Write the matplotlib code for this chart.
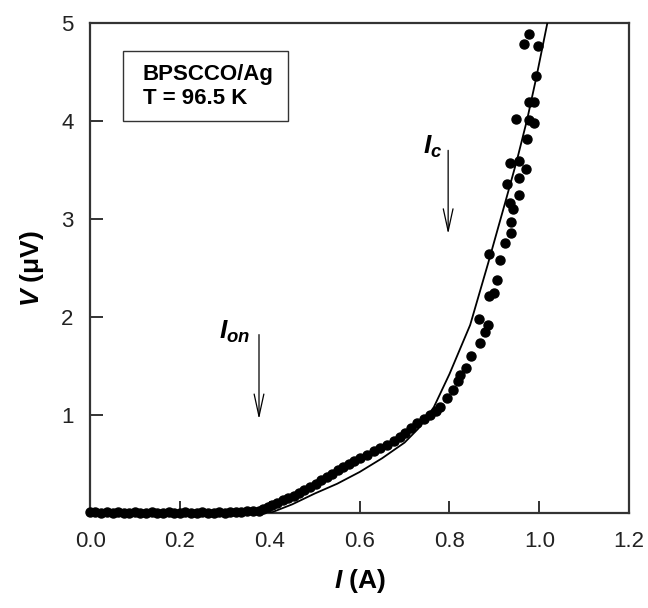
import numpy as np
import matplotlib
matplotlib.use("Agg")
import matplotlib.pyplot as plt
from matplotlib.patches import Rectangle

plt.rcParams['font.family'] = ['Liberation Sans', 'DejaVu Sans']
plt.rcParams['mathtext.fontset'] = 'custom'
plt.rcParams['mathtext.it'] = 'Liberation Sans:italic:bold'
plt.rcParams['mathtext.rm'] = 'Liberation Sans:bold'
plt.rcParams['mathtext.bf'] = 'Liberation Sans:bold'

# measured points, current (A) and voltage (uV)
i_meas = [0.000, 0.012, 0.025, 0.037, 0.050, 0.062, 0.075, 0.087, 0.100, 0.112,
          0.125, 0.137, 0.150, 0.162, 0.175, 0.187, 0.200, 0.212, 0.225, 0.237,
          0.250, 0.262, 0.275, 0.287, 0.300, 0.312, 0.325, 0.337, 0.350, 0.362,
          0.375, 0.385, 0.395, 0.405, 0.417, 0.429, 0.441, 0.453, 0.465, 0.477,
          0.490, 0.502, 0.514, 0.527, 0.539, 0.551, 0.564, 0.576, 0.588, 0.601,
          0.616, 0.631, 0.646, 0.661, 0.676, 0.689, 0.701, 0.714, 0.728, 0.744,
          0.757, 0.769, 0.779,
          0.794, 0.807, 0.818, 0.824, 0.836, 0.848, 0.866, 0.867, 0.878, 0.885,
          0.889, 0.889, 0.900, 0.906, 0.913, 0.923, 0.928, 0.934, 0.934, 0.938,
          0.938, 0.941, 0.949, 0.954, 0.955, 0.955, 0.965, 0.970, 0.973, 0.976,
          0.978, 0.978, 0.987, 0.989, 0.993, 0.998]
v_meas = [0.01, 0.01, 0.00, 0.01, 0.00, 0.01, 0.00, 0.00, 0.01, 0.00,
          0.00, 0.01, 0.00, 0.00, 0.01, 0.00, 0.00, 0.01, 0.00, 0.00,
          0.01, 0.00, 0.00, 0.01, 0.00, 0.01, 0.01, 0.01, 0.02, 0.02,
          0.02, 0.04, 0.06, 0.08, 0.10, 0.13, 0.15, 0.18, 0.21, 0.24,
          0.27, 0.30, 0.34, 0.37, 0.40, 0.44, 0.47, 0.50, 0.53, 0.56,
          0.59, 0.63, 0.66, 0.70, 0.74, 0.78, 0.82, 0.87, 0.92, 0.96,
          1.00, 1.04, 1.08,
          1.17, 1.26, 1.35, 1.41, 1.48, 1.60, 1.98, 1.74, 1.85, 1.92,
          2.22, 2.64, 2.25, 2.38, 2.58, 2.76, 3.36, 3.16, 3.57, 2.86,
          2.97, 3.10, 4.02, 3.42, 3.25, 3.59, 4.79, 3.51, 3.82, 4.20,
          4.01, 4.89, 3.98, 4.20, 4.46, 4.77]

# model curve
i_fit = [0.000, 0.400, 0.450, 0.500, 0.550, 0.600, 0.650, 0.700, 0.730, 0.765,
         0.800, 0.846, 0.886, 0.924, 0.950, 0.973, 0.993, 1.020]
v_fit = [0.00, 0.00, 0.09, 0.20, 0.30, 0.42, 0.56, 0.72, 0.86, 1.08,
         1.42, 1.92, 2.55, 3.17, 3.60, 4.02, 4.44, 5.05]

x_ticks = [0.0, 0.2, 0.4, 0.6, 0.8, 1.0, 1.2]
y_ticks = [1, 2, 3, 4, 5]

fig = plt.figure(figsize=(6.48, 6.08), dpi=100)
ax = fig.add_axes([0.139, 0.156, 0.832, 0.806])

ax.plot(i_fit, v_fit, color='black', lw=1.3, zorder=3)
ax.plot(i_meas, v_meas, 'o', color='black', ms=6.5, mec='black', zorder=4, clip_on=False)

ax.set_xlim(0, 1.2)
ax.set_ylim(0, 5)
ax.set_xticks(x_ticks)
ax.set_xticklabels(['%.1f' % t for t in x_ticks])
ax.set_yticks(y_ticks)
ax.tick_params(direction='in', length=9, width=1.3, labelsize=16, colors='#222222')
ax.tick_params(axis='x', pad=13)
ax.tick_params(axis='y', pad=12)
for s in ax.spines.values():
    s.set_linewidth(1.6)
    s.set_color('#333333')

ax.set_xlabel('$I$ (A)', fontsize=19, fontweight='bold', labelpad=11)
ax.set_ylabel('$V$ (\u03bcV)', fontsize=19, fontweight='bold', labelpad=11)

# sample box
ax.add_patch(Rectangle((0.061, 0.800), 0.306, 0.143, transform=ax.transAxes,
                       fill=False, lw=1.0, ec='#333333'))
ax.text(0.098, 0.871, 'BPSCCO/Ag\nT = 96.5 K', transform=ax.transAxes,
        fontsize=16, fontweight='bold', va='center', ha='left', linespacing=1.15)

# onset and critical currents
ax.annotate('', xy=(0.376, 0.93), xytext=(0.376, 1.85),
            arrowprops=dict(arrowstyle='->,head_length=1.6,head_width=0.35', lw=0.9, color='black'))
ax.text(0.356, 1.72, '$I_{on}$', fontsize=19, ha='right', va='bottom')
ax.annotate('', xy=(0.797, 2.82), xytext=(0.797, 3.73),
            arrowprops=dict(arrowstyle='->,head_length=1.6,head_width=0.35', lw=0.9, color='black'))
ax.text(0.784, 3.6, '$I_c$', fontsize=19, ha='right', va='bottom')

fig.savefig('out.png', dpi=100)
